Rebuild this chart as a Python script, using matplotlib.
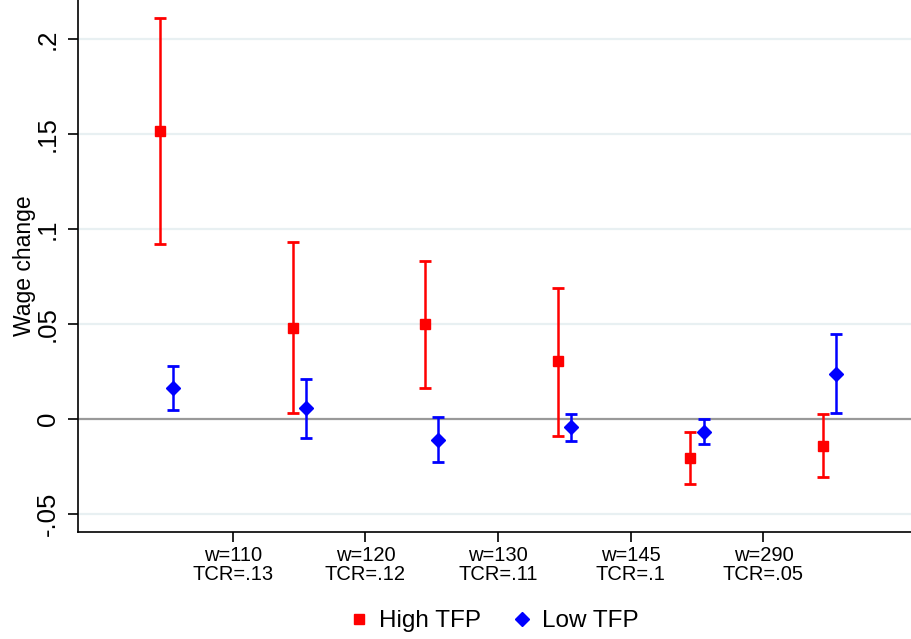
import matplotlib
matplotlib.use("Agg")
import matplotlib.pyplot as plt
import numpy as np

# data
groups = [1, 2, 3, 4, 5, 6]
high_est = [0.1516, 0.0479, 0.0500, 0.0305, -0.0205, -0.0142]
high_lo = [0.0920, 0.0032, 0.0163, -0.0090, -0.0342, -0.0305]
high_hi = [0.2110, 0.0932, 0.0832, 0.0690, -0.0068, 0.0026]
low_est = [0.0163, 0.0058, -0.0110, -0.0042, -0.0068, 0.0237]
low_lo = [0.0047, -0.0100, -0.0226, -0.0116, -0.0132, 0.0032]
low_hi = [0.0279, 0.0210, 0.0010, 0.0026, 0.0000, 0.0447]
tick_labels = ["w=110\nTCR=.13", "w=120\nTCR=.12", "w=130\nTCR=.11",
               "w=145\nTCR=.1", "w=290\nTCR=.05"]
ytick_vals = [-0.05, 0, 0.05, 0.1, 0.15, 0.2]
ytick_labels = ["-.05", "0", ".05", ".1", ".15", ".2"]

plt.rcParams['font.family'] = ['Liberation Sans', 'DejaVu Sans']

fig = plt.figure(figsize=(9.12, 6.39), dpi=100)
ax = fig.add_axes([78 / 912, 107 / 639, 1 - 78 / 912, 532 / 639])

x = np.array(groups, dtype=float)
hi = np.array(high_est)
lo = np.array(low_est)

# grid and zero line
for v in ytick_vals:
    if v == 0:
        ax.axhline(0, color='#999999', lw=1.6, zorder=1)
    else:
        ax.axhline(v, color='#e8f0f2', lw=1.6, zorder=0)

ax.errorbar(x - 0.05, hi, yerr=[hi - np.array(high_lo), np.array(high_hi) - hi],
            fmt='s', color='#ff0000', ms=7.5, capsize=4.5, elinewidth=1.8,
            capthick=2.0, zorder=3, label='High TFP')
ax.errorbar(x + 0.05, lo, yerr=[lo - np.array(low_lo), np.array(low_hi) - lo],
            fmt='D', color='#0000ff', ms=7, capsize=4.5, elinewidth=1.8,
            capthick=2.0, zorder=3, label='Low TFP')

ax.set_xlim(0.333, 6.62)
ax.set_ylim(-0.0595, 0.2205)

ax.set_yticks(ytick_vals)
ax.set_yticklabels(ytick_labels, rotation=90, va='center', fontsize=18.5)
ax.set_xticks(x[:-1] + 0.5)
ax.set_xticklabels(tick_labels, fontsize=14.5, linespacing=1.0)
ax.tick_params(axis='both', direction='out', length=7, width=1.2, color='black')
ax.tick_params(axis='x', pad=3)
ax.tick_params(axis='y', pad=6)

ax.set_ylabel("Wage change", fontsize=16.5, labelpad=0)

for s in ['top', 'right']:
    ax.spines[s].set_visible(False)
for s in ['left', 'bottom']:
    ax.spines[s].set_linewidth(1.2)

h, l = ax.get_legend_handles_labels()
h = [hh[0] for hh in h]
fig.legend(h, l, loc='center', bbox_to_anchor=(494 / 912, 1 - 621 / 639),
           ncol=2, frameon=False, fontsize=17.5, handlelength=0.8,
           handletextpad=0.4, columnspacing=1.3)

fig.savefig("out.png", dpi=100)
